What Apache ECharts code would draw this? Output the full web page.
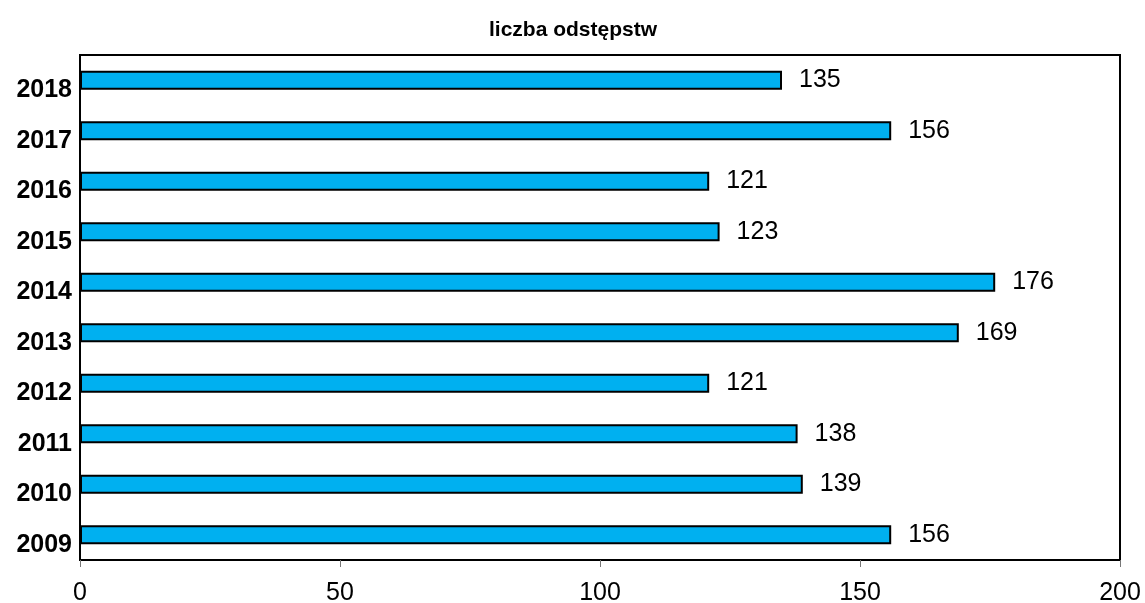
<!DOCTYPE html>
<html>
<head>
<meta charset="utf-8">
<script src="https://cdn.jsdelivr.net/npm/echarts@6/dist/echarts.min.js"></script>
<style>
html,body{margin:0;padding:0;background:#fff;}
#chart{width:1145px;height:603px;}
</style>
</head>
<body>
<div id="chart"></div>
<script>
const titleText = 'liczba odstępstw';
const years = ['2009','2010','2011','2012','2013','2014','2015','2016','2017','2018'];
const counts = [156, 139, 138, 121, 169, 176, 123, 121, 156, 135];
const xTicks = [0, 50, 100, 150, 200];

const FONT = 'Liberation Sans, Arial, sans-serif';
const chart = echarts.init(document.getElementById('chart'));
chart.setOption({
  animation: false,
  backgroundColor: '#fff',
  title: {
    text: titleText,
    left: 568,
    top: 15,
    textAlign: 'center',
    textStyle: {fontFamily: FONT, fontWeight: 'bold', fontSize: 21, color: '#000'}
  },
  grid: {
    left: 80, right: 25, top: 55, bottom: 43,
    containLabel: false, outerBoundsMode: 'none',
    show: true, borderColor: '#000', borderWidth: 2, backgroundColor: 'transparent'
  },
  xAxis: {
    type: 'value',
    min: xTicks[0], max: xTicks[xTicks.length - 1], interval: 50,
    axisLine: {show: true, lineStyle: {color: '#000', width: 2}},
    axisTick: {show: true, length: 7, lineStyle: {color: '#777', width: 1}},
    splitLine: {show: false},
    axisLabel: {margin: 21, color: '#000', fontSize: 25, fontFamily: FONT}
  },
  yAxis: {
    type: 'category',
    data: years,
    axisLine: {show: true, lineStyle: {color: '#000', width: 2}},
    axisTick: {show: false},
    axisLabel: {
      margin: 8, color: '#000', fontSize: 25, fontWeight: 'bold', fontFamily: FONT,
      verticalAlign: 'top', lineHeight: 20
    }
  },
  series: [{
    type: 'bar',
    data: counts,
    barWidth: 19,
    itemStyle: {color: '#00B0F0', borderColor: '#000', borderWidth: 2},
    label: {
      show: true, position: 'right', distance: 17,
      color: '#000', fontSize: 25, fontFamily: FONT
    }
  }]
});
</script>
</body>
</html>
